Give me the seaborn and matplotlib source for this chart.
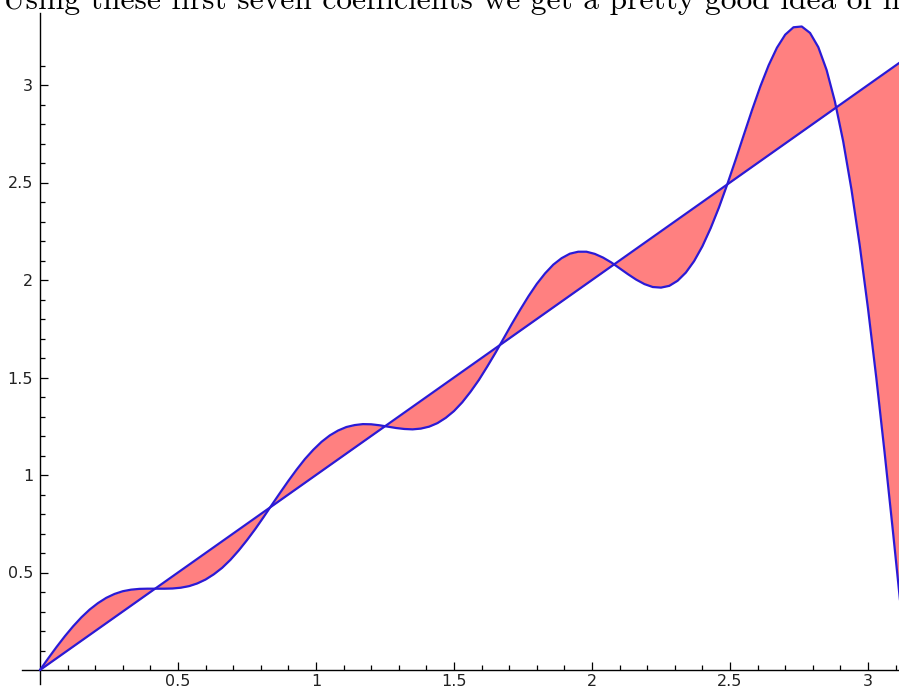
import numpy as np
import pandas as pd
import matplotlib
matplotlib.use("Agg")
import matplotlib.pyplot as plt
import seaborn as sns
from matplotlib.ticker import FixedLocator, FuncFormatter

# ---- data ----
title_text = "Using these first seven coefficients we get a pretty good idea of how"

x_values = [0.00, 0.03, 0.06, 0.09, 0.12, 0.15, 0.18, 0.21, 0.24, 0.27,
            0.30, 0.33, 0.36, 0.39, 0.42, 0.45, 0.48, 0.51, 0.54, 0.57,
            0.60, 0.63, 0.66, 0.69, 0.72, 0.75, 0.78, 0.81, 0.84, 0.87,
            0.90, 0.93, 0.96, 0.99, 1.02, 1.05, 1.08, 1.11, 1.14, 1.17,
            1.20, 1.23, 1.26, 1.29, 1.32, 1.35, 1.38, 1.41, 1.44, 1.47,
            1.50, 1.53, 1.56, 1.59, 1.62, 1.65, 1.68, 1.71, 1.74, 1.77,
            1.80, 1.83, 1.86, 1.89, 1.92, 1.95, 1.98, 2.01, 2.04, 2.07,
            2.10, 2.13, 2.16, 2.19, 2.22, 2.25, 2.28, 2.31, 2.34, 2.37,
            2.40, 2.43, 2.46, 2.49, 2.52, 2.55, 2.58, 2.61, 2.64, 2.67,
            2.70, 2.73, 2.76, 2.79, 2.82, 2.85, 2.88, 2.91, 2.94, 2.97,
            3.00, 3.03, 3.06, 3.09, 3.12, 3.1416]

approx_values = [0.000, 0.060, 0.118, 0.173, 0.224, 0.270, 0.310, 0.343, 0.370, 0.390,
                 0.404, 0.412, 0.416, 0.417, 0.417, 0.417, 0.418, 0.422, 0.430, 0.444,
                 0.464, 0.491, 0.524, 0.565, 0.613, 0.666, 0.723, 0.784, 0.847, 0.909,
                 0.970, 1.028, 1.082, 1.129, 1.170, 1.203, 1.228, 1.246, 1.256, 1.261,
                 1.260, 1.255, 1.248, 1.241, 1.236, 1.234, 1.238, 1.248, 1.266, 1.293,
                 1.328, 1.373, 1.427, 1.487, 1.555, 1.626, 1.701, 1.776, 1.848, 1.917,
                 1.980, 2.034, 2.079, 2.112, 2.135, 2.145, 2.145, 2.134, 2.115, 2.090,
                 2.060, 2.030, 2.002, 1.979, 1.964, 1.961, 1.970, 1.996, 2.038, 2.097,
                 2.173, 2.266, 2.372, 2.490, 2.615, 2.744, 2.872, 2.993, 3.101, 3.191,
                 3.258, 3.296, 3.300, 3.267, 3.194, 3.077, 2.916, 2.712, 2.465, 2.178,
                 1.854, 1.499, 1.117, 0.716, 0.302, 0.000]

# the straight line y = x (end points)
line_x = [0.0, 3.1416]
line_y = [0.0, 3.1416]

x_ticks = [0.5, 1.0, 1.5, 2.0, 2.5, 3.0]
y_ticks = [0.5, 1.0, 1.5, 2.0, 2.5, 3.0]

# ---- figure ----
sns.set_style("white")
W, H = 899, 691
fig = plt.figure(figsize=(W / 100, H / 100), dpi=100)
ax = fig.add_axes([0, 0, 1, 1])

curve = pd.DataFrame({"x": x_values, "y": approx_values})
line = pd.DataFrame({"x": line_x, "y": line_y})

ax.fill_between(curve["x"], curve["y"], curve["x"], color="#ff8080",
                linewidth=0, zorder=1)
sns.lineplot(data=curve, x="x", y="y", sort=False, estimator=None,
             color="#2a1ad6", linewidth=1.6, ax=ax, zorder=3)
sns.lineplot(data=line, x="x", y="y", sort=False, estimator=None,
             color="#2a1ad6", linewidth=1.6, ax=ax, zorder=3)

# pixel mapping: x=0 at 40px, 276 px/unit ; y=0 at 670px, 195 px/unit
ax.set_xlim(-40 / 276, (W - 40) / 276)
ax.set_ylim(-(H - 670) / 195, 670 / 195)

for s in ["top", "right"]:
    ax.spines[s].set_visible(False)
ax.spines["left"].set_position(("data", 0))
ax.spines["bottom"].set_position(("data", 0))
ax.spines["left"].set_bounds(-14 / 195, (670 - 13) / 195)
ax.spines["bottom"].set_bounds(-18 / 276, (W - 40) / 276)
for s in ["left", "bottom"]:
    ax.spines[s].set_color("black")
    ax.spines[s].set_linewidth(1.0)

ax.set_xlabel("")
ax.set_ylabel("")
ax.xaxis.set_major_locator(FixedLocator(x_ticks))
ax.yaxis.set_major_locator(FixedLocator(y_ticks))
minor = [i / 10 for i in range(1, 32) if i % 5 != 0]
ax.xaxis.set_minor_locator(FixedLocator(minor))
ax.yaxis.set_minor_locator(FixedLocator([m for m in minor if m < 3.4]))
fmt = FuncFormatter(lambda v, p: f"{v:g}")
ax.xaxis.set_major_formatter(fmt)
ax.yaxis.set_major_formatter(fmt)

ax.tick_params(which="both", direction="in", color="black", width=0.9,
               bottom=True, left=True, top=False, right=False)
ax.tick_params(which="major", length=6)
ax.tick_params(which="minor", length=3.5)
ax.tick_params(axis="x", which="major", pad=3, labelsize=11.5, labelcolor="#222222")
ax.tick_params(axis="y", which="major", pad=5, labelsize=11.5, labelcolor="#222222")
ax.grid(False)
ax.set_facecolor("white")
fig.patch.set_facecolor("white")

fig.text(2 / W, 1 - 9 / H, title_text, family=["cmr10", "DejaVu Serif"],
         fontsize=22.7, va="baseline", ha="left", color="black")

fig.savefig("out.png", dpi=100, facecolor="white")
